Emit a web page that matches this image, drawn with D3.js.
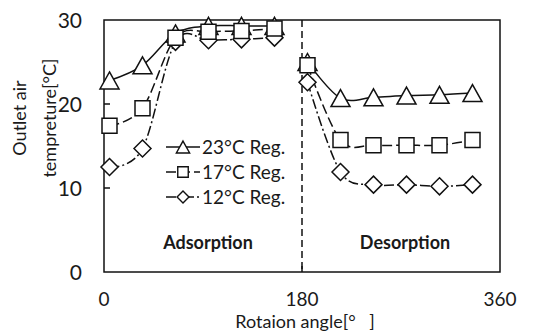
<!DOCTYPE html>
<html>
<head>
<meta charset="utf-8">
<script src="https://cdn.jsdelivr.net/npm/d3@7"></script>
<style>
  body { margin: 0; background: #fff; }
  svg text { font-family: Lato, "Liberation Sans", sans-serif; fill: #1a1a1a; }
</style>
</head>
<body>
<div id="chart"></div>
<script>
// rotation angle of each measurement point
var angles = [5, 35, 65, 95, 125, 155, 185, 215, 245, 275, 305, 335];
// outlet air temperature per regeneration temperature
var reg23 = [22.8, 24.6, 28.4, 29.3, 29.3, 29.3, 25.0, 20.7, 20.8, 21.0, 21.1, 21.3];
var reg17 = [17.4, 19.5, 27.9, 28.6, 28.7, 29.0, 24.6, 15.7, 15.1, 15.1, 15.1, 15.7];
var reg12 = [12.5, 14.7, 27.4, 27.6, 27.7, 27.9, 22.6, 11.9, 10.4, 10.4, 10.2, 10.4];
var seriesNames = ["23\u00B0C Reg.", "17\u00B0C Reg.", "12\u00B0C Reg."];
var xTicks = [0, 180, 360];
var yTicks = [0, 10, 20, 30];

var W = 542, H = 334;
var box = { left: 104, right: 500, top: 20, bottom: 272 };

var svg = d3.select("#chart").append("svg")
  .attr("width", W)
  .attr("height", H);

var x = d3.scaleLinear().domain([0, 360]).range([box.left, box.right]);
var y = d3.scaleLinear().domain([0, 30]).range([box.bottom, box.top]);

// marker shapes (centered on the point)
var shapes = {
  triangle: function (s) {
    var w = 9.5, h = 8.5;
    return "M0," + (-h) + "L" + w + "," + h + "L" + (-w) + "," + h + "Z";
  },
  square: function () {
    return "M-7.5,-7.5h15v15h-15Z";
  },
  diamond: function () {
    return "M0,-8.5L8.5,0L0,8.5L-8.5,0Z";
  }
};

var series = [
  { name: seriesNames[0], values: reg23, shape: "triangle", dash: null },
  { name: seriesNames[1], values: reg17, shape: "square", dash: "10,4" },
  { name: seriesNames[2], values: reg12, shape: "diamond", dash: "10,3,2,3" }
];

// frame
svg.append("rect")
  .attr("x", box.left).attr("y", box.top)
  .attr("width", box.right - box.left).attr("height", box.bottom - box.top)
  .attr("fill", "none").attr("stroke", "#111").attr("stroke-width", 1.5);

// inner ticks
svg.selectAll(".ytick").data(yTicks.slice(1, -1)).enter().append("line")
  .attr("x1", box.left).attr("x2", box.left + 6)
  .attr("y1", function (d) { return y(d); }).attr("y2", function (d) { return y(d); })
  .attr("stroke", "#111").attr("stroke-width", 1.5);
svg.selectAll(".xtick").data(xTicks.slice(1, -1)).enter().append("line")
  .attr("x1", function (d) { return x(d); }).attr("x2", function (d) { return x(d); })
  .attr("y1", box.bottom).attr("y2", box.bottom - 6)
  .attr("stroke", "#111").attr("stroke-width", 1.5);

// tick labels
svg.selectAll(".ylab").data(yTicks).enter().append("text")
  .attr("x", 82).attr("y", function (d) { return y(d); })
  .attr("dy", "0.36em")
  .attr("text-anchor", "end")
  .style("font-size", "21px")
  .text(function (d) { return d; });
svg.selectAll(".xlab").data(xTicks).enter().append("text")
  .attr("x", function (d) { return x(d); }).attr("y", 299)
  .attr("dy", "0.36em")
  .attr("text-anchor", "middle")
  .style("font-size", "19px")
  .text(function (d) { return d; });

// axis titles
svg.append("text")
  .attr("x", 305).attr("y", 322).attr("dy", "0.36em")
  .attr("text-anchor", "middle")
  .style("font-size", "18px")
  .text("Rotaion angle[\u00B0\u2003]");
svg.append("text")
  .attr("transform", "translate(20,118) rotate(-90)")
  .attr("dy", "0.36em")
  .attr("text-anchor", "middle")
  .style("font-size", "18px")
  .text("Outlet air");
svg.append("text")
  .attr("transform", "translate(50,118) rotate(-90)")
  .attr("dy", "0.36em")
  .attr("text-anchor", "middle")
  .style("font-size", "18px")
  .text("tempreture[\u00B0C]");

// divider between adsorption and desorption
svg.append("line")
  .attr("x1", x(180)).attr("x2", x(180))
  .attr("y1", box.top).attr("y2", box.bottom)
  .attr("stroke", "#111").attr("stroke-width", 1.5)
  .attr("stroke-dasharray", "7,4");

svg.append("text")
  .attr("x", 208).attr("y", 243).attr("dy", "0.36em")
  .attr("text-anchor", "middle")
  .style("font-size", "18px").style("font-weight", "bold")
  .text("Adsorption");
svg.append("text")
  .attr("x", 405).attr("y", 243).attr("dy", "0.36em")
  .attr("text-anchor", "middle")
  .style("font-size", "18px").style("font-weight", "bold")
  .text("Desorption");

// lines, two halves per series (no link across 180)
var line = d3.line()
  .x(function (d) { return x(d[0]); })
  .y(function (d) { return y(d[1]); })
  .curve(d3.curveCatmullRom.alpha(0));

series.forEach(function (s) {
  var pts = angles.map(function (a, i) { return [a, s.values[i]]; });
  [pts.slice(0, 6), pts.slice(6)].forEach(function (half) {
    svg.append("path")
      .attr("d", line(half))
      .attr("fill", "none")
      .attr("stroke", "#111")
      .attr("stroke-width", 1.5)
      .attr("stroke-dasharray", s.dash);
  });
});

// markers: diamonds first, then triangles, squares on top
[series[2], series[0], series[1]].forEach(function (s) {
  svg.selectAll(null).data(angles).enter().append("path")
    .attr("transform", function (a, i) { return "translate(" + x(a) + "," + y(s.values[i]) + ")"; })
    .attr("d", shapes[s.shape])
    .attr("fill", "#fff")
    .attr("stroke", "#111")
    .attr("stroke-width", 1.5);
});

// legend
var legend = svg.selectAll(".legend").data(series).enter().append("g")
  .attr("transform", function (d, i) { return "translate(166," + (147 + i * 25) + ")"; });
legend.append("line")
  .attr("x1", 0).attr("x2", 34)
  .attr("stroke", "#111").attr("stroke-width", 1.5)
  .attr("stroke-dasharray", function (d) { return d.dash; });
legend.append("path")
  .attr("transform", "translate(17,0) scale(0.7)")
  .attr("d", function (d) { return shapes[d.shape](); })
  .attr("fill", "#fff").attr("stroke", "#111").attr("stroke-width", 2);
legend.append("text")
  .attr("x", 36).attr("dy", "0.36em")
  .style("font-size", "19px")
  .text(function (d) { return d.name; });
</script>
</body>
</html>
